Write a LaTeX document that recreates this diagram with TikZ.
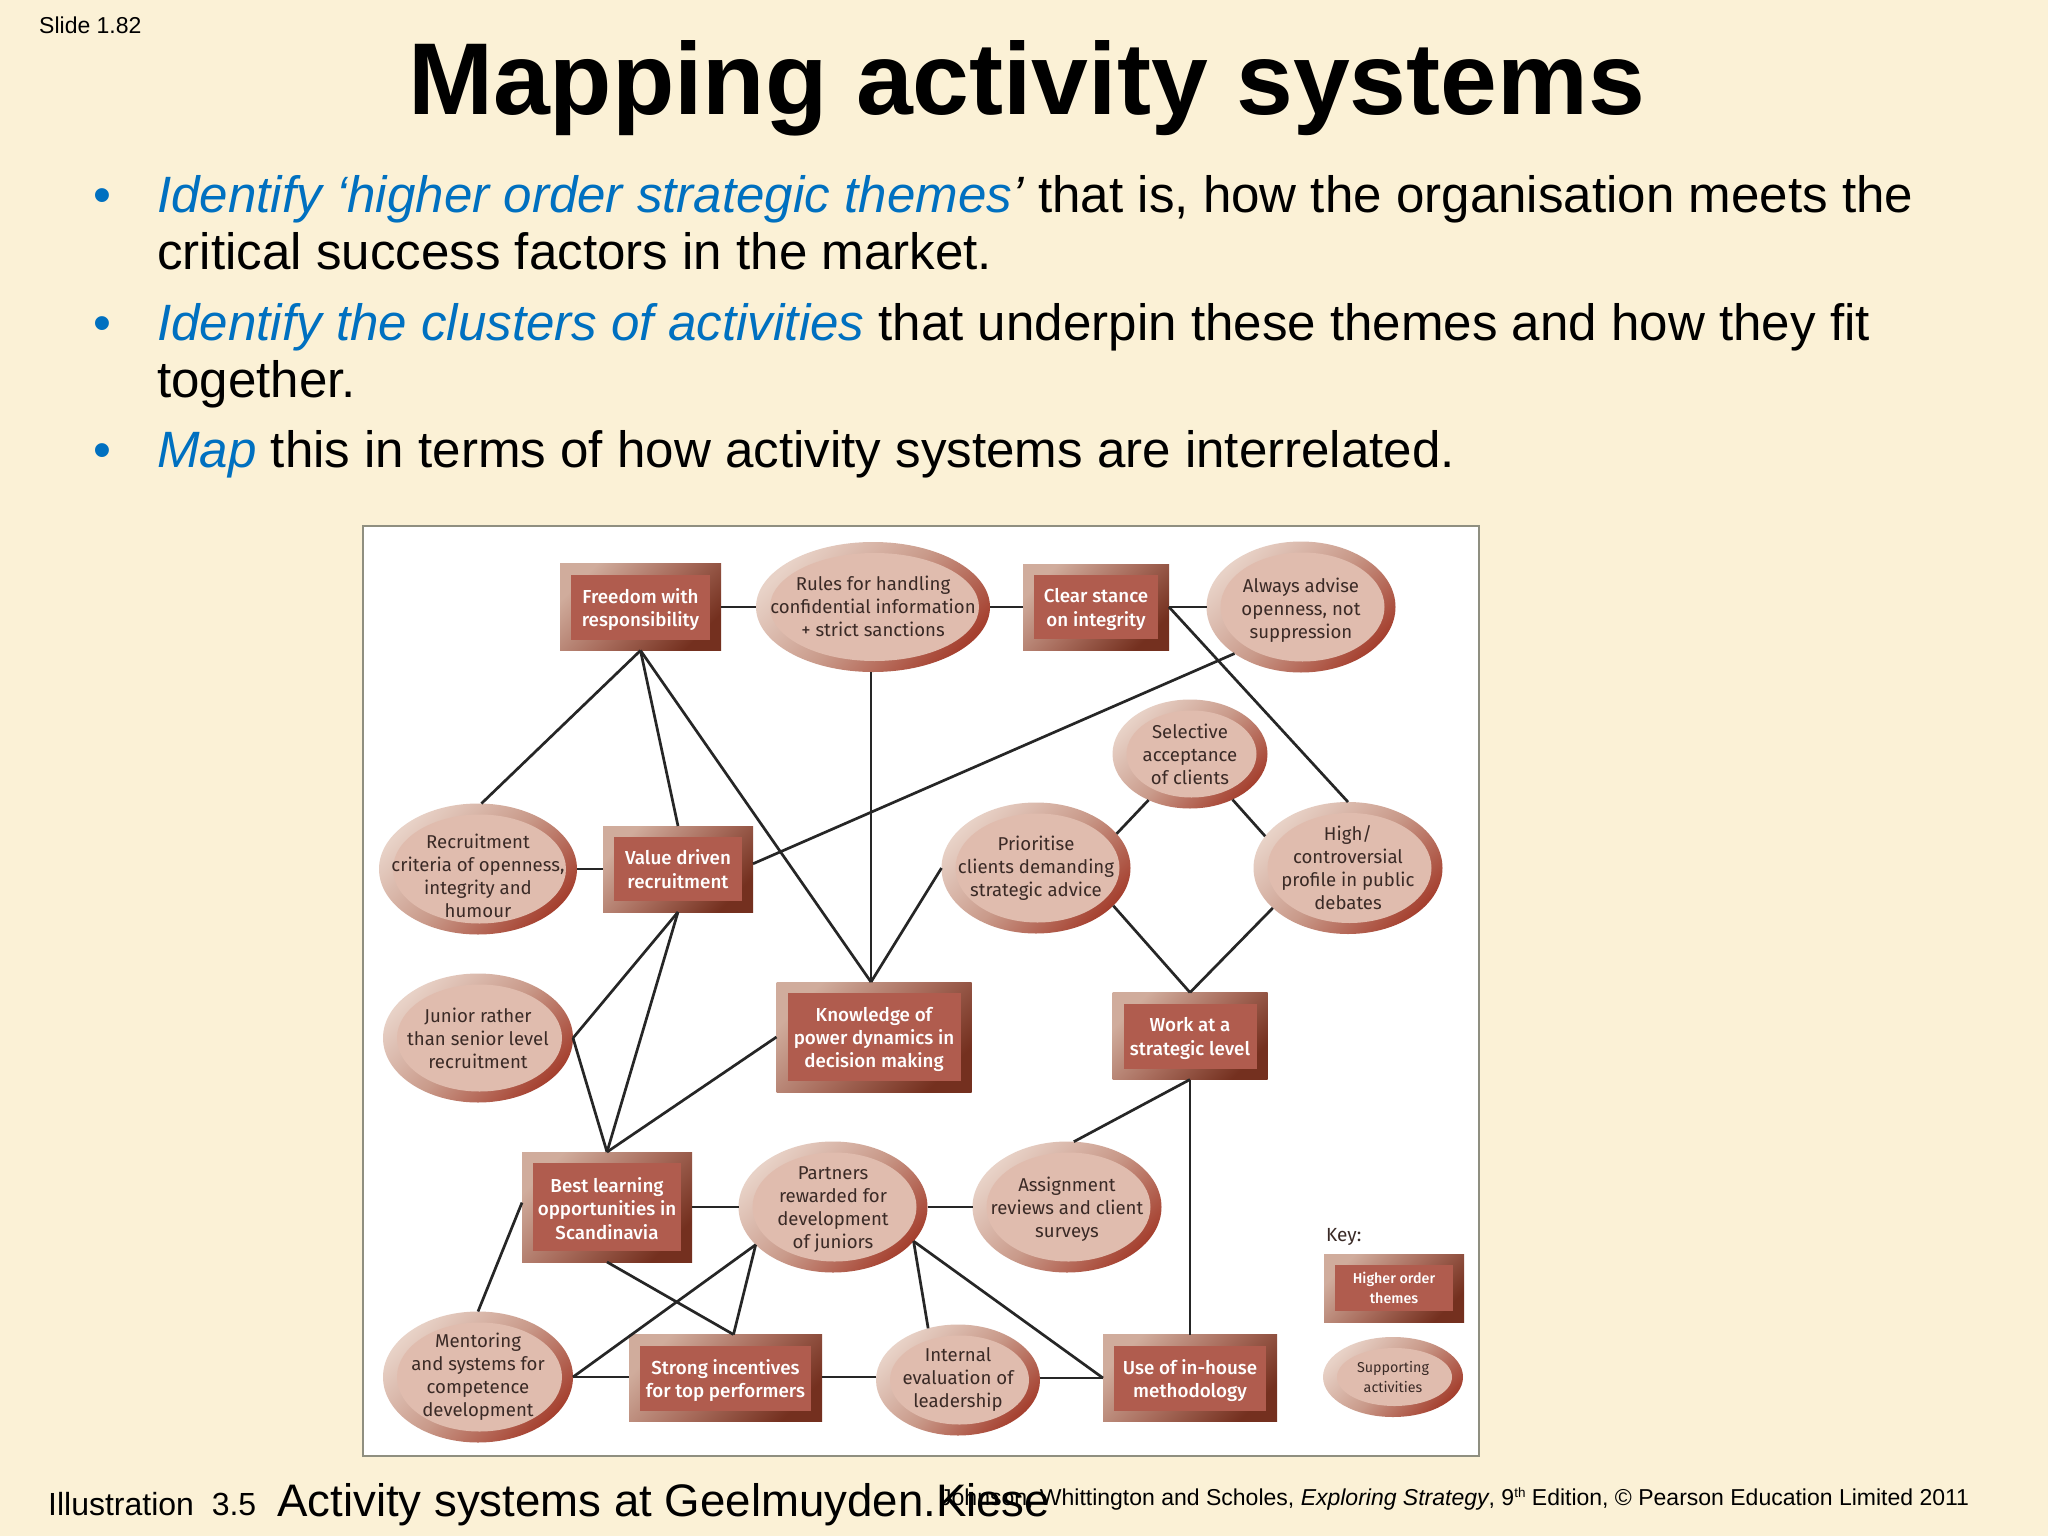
\documentclass[tikz,border=0pt]{standalone}
\usepackage{fontspec}
\setmainfont{Liberation Sans}
\newfontfamily\dinfont{Fira Sans}
\newfontfamily\dinmed{Fira Sans Medium}
\usetikzlibrary{shapes.geometric}
\definecolor{slidebg}{HTML}{FBF1D6}
\definecolor{bulletblue}{HTML}{0070C0}
\definecolor{linkdark}{HTML}{262626}
\definecolor{panelline}{HTML}{8F8F80}
\definecolor{rectlight}{HTML}{D0AC9C}
\definecolor{rectmid}{HTML}{A86C5C}
\definecolor{rectdark}{HTML}{74301F}
\definecolor{rectin}{HTML}{B05C4E}
\definecolor{ovallight}{HTML}{E8D2C7}
\definecolor{ovalmid}{HTML}{C99A8A}
\definecolor{ovaldark}{HTML}{A5402F}
\definecolor{ovalin}{HTML}{E0BCAE}
\definecolor{ovalink}{HTML}{3A2A26}
\tikzset{
  x=1pt,y=-1pt,
  themebox/.style 2 args={shape=rectangle,inner sep=0pt,outer sep=0pt,
    minimum width=#1pt,minimum height=#2pt,
    top color=rectlight,bottom color=rectdark,middle color=rectmid,shading angle=45,
    path picture={\fill[rectin] ([xshift=11pt,yshift=11pt]path picture bounding box.south west) rectangle ([xshift=-11pt,yshift=-11pt]path picture bounding box.north east);}},
  themetext/.style={text=white,align=center,inner sep=0pt,yshift=-2.5pt,font=\dinmed\fontsize{18.8}{23.3}\selectfont},
  ovalbox/.style 2 args={shape=ellipse,inner sep=0pt,outer sep=0pt,
    minimum width=#1pt,minimum height=#2pt,
    top color=ovallight,bottom color=ovaldark,middle color=ovalmid,shading angle=45,
    path picture={\fill[ovalin] ([xshift=1.5pt]path picture bounding box.center) ellipse ({#1/2-12.5} and {#2/2-11});}},
  ovaltext/.style={text=ovalink,align=center,inner sep=0pt,font=\dinfont\fontsize{18.6}{23}\selectfont},
  keytheme/.style={themetext,yshift=2.5pt,font=\dinmed\fontsize{14.3}{20}\selectfont},
  keyoval/.style={ovaltext,font=\dinfont\fontsize{14.3}{20}\selectfont},
  link/.style={draw=linkdark,line width=2.7pt},
  bodytext/.style={anchor=base west,inner sep=0pt,font=\fontsize{51.1}{58}\selectfont},
  bulletmark/.style={anchor=base west,inner sep=0pt,text=bulletblue,font=\fontsize{51.1}{58}\selectfont},
}
\newcommand{\hl}[1]{\textcolor{bulletblue}{\itshape #1}}
\begin{document}
\begin{tikzpicture}
\fill[slidebg] (0,0) rectangle (2048,1536);
\useasboundingbox (0,0) rectangle (2048,1536);
% header
\node[anchor=base west,inner sep=0pt,font=\fontsize{23}{26}\selectfont] (slideno) at (39,34) {Slide 1.82};
\node[anchor=base,inner sep=0pt,font=\bfseries\fontsize{102.1}{110}\selectfont] (title) at (1026.5,115) {Mapping activity systems};
% bullets
\node[bulletmark] (b1) at (93,212) {•};
\node[bodytext] (l1) at (157,212) {\hl{Identify ‘higher order strategic themes}\textit{’} that is, how the organisation meets the};
\node[bodytext] (l2) at (157,269) {critical success factors in the market.};
\node[bulletmark] (b2) at (93,340) {•};
\node[bodytext] (l3) at (157,340) {\hl{Identify the clusters of activities} that underpin these themes and how they fit};
\node[bodytext] (l4) at (157,397) {together.};
\node[bulletmark] (b3) at (93,467) {•};
\node[bodytext] (l5) at (157,467) {\hl{Map} this in terms of how activity systems are interrelated.};
% panel
\node[draw=panelline,fill=white,line width=1.2pt,inner sep=0pt,minimum width=1116pt,minimum height=930pt] (panel) at (921,991) {};
% themes
\node[themebox={161}{87},label={[themetext]center:{Freedom with\\responsibility}}] (freedom) at (640.5,607) {};
\node[themebox={146}{86},label={[themetext]center:{Clear stance\\on integrity}}] (clear) at (1096,607) {};
\node[themebox={150}{86},label={[themetext,yshift=2.5pt]center:{Value driven\\recruitment}}] (value) at (678,869) {};
\node[themebox={195}{110},label={[themetext]center:{Knowledge of\\power dynamics in\\decision making}}] (know) at (874,1037) {};
\node[themebox={155}{87},label={[themetext]center:{Work at a\\strategic level}}] (work) at (1190,1036) {};
\node[themebox={170}{110},label={[themetext,yshift=1pt]center:{Best learning\\opportunities in\\Scandinavia}}] (best) at (607,1207) {};
\node[themebox={193}{87},label={[themetext]center:{Strong incentives\\for top performers}}] (strong) at (725.5,1378) {};
\node[themebox={174}{87},label={[themetext]center:{Use of in-house\\methodology}}] (use) at (1190,1378) {};
% supporting
\node[ovalbox={234}{130},label={[ovaltext,yshift=1pt]center:{Rules for handling\\confidential information\\+ strict sanctions}}] (rules) at (873,607) {};
\node[ovalbox={189}{131},label={[ovaltext,yshift=-3.5pt]center:{Always advise\\openness, not\\suppression}}] (always) at (1301,607) {};
\node[ovalbox={155}{109},label={[ovaltext]center:{Selective\\acceptance\\of clients}}] (select) at (1190,754) {};
\node[ovalbox={198}{131},label={[ovaltext,yshift=-7pt]center:{Recruitment\\criteria of openness,\\integrity and\\humour}}] (recruit) at (478,869) {};
\node[ovalbox={189}{131},label={[ovaltext]center:{Prioritise\\clients demanding\\strategic advice}}] (prior) at (1036,868) {};
\node[ovalbox={189}{132},label={[ovaltext]center:{High/\\controversial\\profile in public\\debates}}] (high) at (1348,868) {};
\node[ovalbox={190}{129},label={[ovaltext]center:{Junior rather\\than senior level\\recruitment}}] (junior) at (478,1038) {};
\node[ovalbox={189}{131},label={[ovaltext,yshift=-2.5pt]center:{Partners\\rewarded for\\development\\of juniors}}] (partners) at (833,1207) {};
\node[ovalbox={189}{131},label={[ovaltext,yshift=-2.5pt]center:{Assignment\\reviews and client\\surveys}}] (assign) at (1067,1207) {};
\node[ovalbox={190}{131},label={[ovaltext]center:{Mentoring\\and systems for\\competence\\development}}] (mentor) at (478,1377) {};
\node[ovalbox={164}{111},label={[ovaltext,yshift=1pt]center:{Internal\\evaluation of\\leadership}}] (internal) at (958,1380) {};
% key
\node[anchor=base west,inner sep=0pt,text=ovalink,font=\dinfont\fontsize{19}{23}\selectfont] (keyword) at (1326,1241) {Key:};
\node[themebox={140}{68},label={[keytheme]center:{Higher order\\themes}}] (keyrect) at (1394,1288) {};
\node[ovalbox={140}{80},label={[keyoval]center:{Supporting\\activities}}] (keyellipse) at (1393,1377) {};
% connector end points
\coordinate (knowtop) at ([xshift=-3pt]know.north);
\coordinate (rulesbot) at ([xshift=-2pt]rules.south);
\coordinate (strongtop) at ([xshift=8pt]strong.north);
% connectors
\draw[link] (freedom.east) -- (rules.west);
\draw[link] (rules.east) -- (clear.west);
\draw[link] (clear.east) -- (always.west);
\draw[link] (clear.east) -- (high.north);
\draw[link] (freedom.south) -- (recruit.87);
\draw[link] (freedom.south) -- (value.north);
\draw[link] (freedom.south) -- (knowtop);
\draw[link] (rulesbot) -- (knowtop);
\draw[link] (always.215) -- (value.4);
\draw[link] (recruit.east) -- (value.west);
\draw[link] (prior.west) -- (knowtop);
\draw[link] (select.228) -- (prior.23);
\draw[link] (select.313) -- (high.159);
\draw[link] (prior.334) -- (work.north);
\draw[link] (high.208) -- (work.north);
\draw[link] (value.south) -- (junior.east);
\draw[link] (value.south) -- (best.north);
\draw[link] (junior.east) -- (best.north);
\draw[link] (know.west) -- (best.north);
\draw[link] (best.east) -- (partners.west);
\draw[link] (partners.east) -- (assign.west);
\draw[link] (work.south) -- (assign.84);
\draw[link] (work.south) -- (use.north);
\draw[link] (best.177) -- (mentor.north);
\draw[link] (best.south) -- (strongtop);
\draw[link] (partners.206) -- (mentor.east);
\draw[link] (partners.206) -- (strongtop);
\draw[link] (partners.337) -- (internal.120);
\draw[link] (partners.337) -- (use.west);
\draw[link] (mentor.east) -- (strong.west |- mentor.east);
\draw[link] (strong.east |- mentor.east) -- (internal.west |- mentor.east);
\draw[link] (internal.east |- use.west) -- (use.west);
% footer
\node[anchor=base west,inner sep=0pt,font=\fontsize{32}{34}\selectfont] (illus) at (48,1515) {Illustration\ \ 3.5};
\node[anchor=base west,inner sep=0pt,font=\fontsize{45.6}{50}\selectfont] (capt) at (277,1516) {Activity systems at Geelmuyden.Kiese};
\node[anchor=base west,inner sep=0pt,font=\fontsize{23}{27}\selectfont] (credit) at (940,1505) {Johnson, Whittington and Scholes, \textit{Exploring Strategy}, 9\raisebox{0.6ex}{\fontsize{13.5}{14}\selectfont th} Edition, © Pearson Education Limited 2011};
\end{tikzpicture}
\end{document}
